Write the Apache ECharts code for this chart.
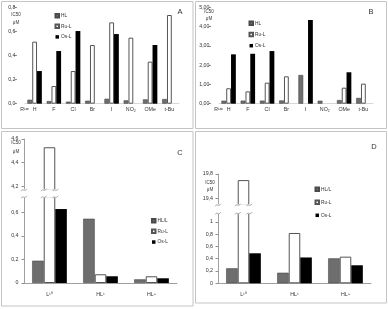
<!DOCTYPE html>
<html><head><meta charset="utf-8">
<script src="https://cdn.jsdelivr.net/npm/echarts@6/dist/echarts.min.js"></script>
<style>html,body{margin:0;padding:0;background:#fff}#c{width:388px;height:309px}</style>
</head><body><div id="c"></div>
<script>
// ---- data ----
const catsAB = ['H','F','Cl','Br','I','NO₂','OMe','t-Bu'];
const aHL = [0.033, 0.022, 0.017, 0.025, 0.041, 0.028, 0.036, 0.039];
const aRu = [0.515, 0.147, 0.271, 0.487, 0.675, 0.548, 0.349, 0.736];
const aOs = [0.271, 0.437, 0.603, null, 0.578, null, 0.487, null];
const bHL = [0.156, 0.16, 0.16, 0.17, 1.49, 0.156, 0.19, 0.30];
const bRu = [0.80, 0.64, 1.09, 1.42, null, null, 0.83, 1.04];
const bOs = [2.56, 2.59, 2.73, null, 4.34, null, 1.63, null];
const catsCD = ['L¹⁰','HL¹','HL⁹'];
const cHL = [0.189, 0.545, 0.031];
const cRu = [4.53, 0.074, 0.057];
const cOs = [0.627, 0.057, 0.040];
const dHL = [0.244, 0.172, 0.406];
const dRu = [19.70, 0.818, 0.433];
const dOs = [0.488, 0.420, 0.293];
const ticksA = [0, 0.2, 0.4, 0.6, 0.8];
const ticksB = [0, 1, 2, 3, 4, 5];
const ticksCup = [4.2, 4.4, 4.6];
const ticksClow = [0, 0.2, 0.4, 0.6];
const ticksDup = [19.4, 19.8];
const ticksDlow = [0, 0.2, 0.4, 0.6, 0.8, 1];

const FONT = 'Liberation Sans';
const TXT = '#333333';
const GRAY = '#6e6e6e', GRAYB = '#4a4a4a';
const chart = echarts.init(document.getElementById('c'), null, {renderer:'canvas'});

const comma = d => v => (d == null ? String(+v.toFixed(2)) : v.toFixed(d)).replace('.', ',');

function styleOf(kind){
  if (kind === 'hl') return {color: GRAY, borderColor: GRAYB, borderWidth: 0.6};
  if (kind === 'ru') return {color: '#ffffff', borderColor: '#555555', borderWidth: 1};
  return {color: '#000000'};
}
const series = [];
function addSeries(grid, names, datas, gap){
  const kinds = ['hl','ru','os'];
  for (let i = 0; i < 3; i++) {
    series.push({
      type: 'bar', name: names[i], xAxisIndex: grid, yAxisIndex: grid,
      data: datas[i], barGap: '0%', barCategoryGap: gap, clip: true,
      itemStyle: styleOf(kinds[i]), emphasis: {disabled: true}, animation: false
    });
  }
}
addSeries(0, ['HL','Ru-L','Os-L'], [aHL, aRu, aOs], '25%');
addSeries(1, ['HL','Ru-L','Os-L'], [bHL, bRu, bOs], '25%');
addSeries(2, ['HL/L','Ru-L','Os-L'], [cHL, cRu, cOs], '32%');
addSeries(3, ['HL/L','Ru-L','Os-L'], [cHL, cRu, cOs], '32%');
addSeries(4, ['HL/L','Ru-L','Os-L'], [dHL, dRu, dOs], '32%');
addSeries(5, ['HL/L','Ru-L','Os-L'], [dHL, dRu, dOs], '32%');

const grids = [
  {left: 25, top: 7.3, width: 154, height: 96.4},
  {left: 219, top: 7.3, width: 154, height: 96.4},
  {left: 24, top: 139, width: 153, height: 51},
  {left: 24, top: 197, width: 153, height: 86},
  {left: 218, top: 174, width: 153, height: 31},
  {left: 218, top: 213.3, width: 153, height: 70}
];
const lab = {fontFamily: FONT, fontSize: 5.3, color: TXT};
const xAxes = [
  {gridIndex: 0, type: 'category', data: catsAB, axisLine: {lineStyle: {color: '#d8d8d8'}}, axisTick: {show: false}, axisLabel: Object.assign({margin: 3.2, interval: 0}, lab)},
  {gridIndex: 1, type: 'category', data: catsAB, axisLine: {lineStyle: {color: '#d8d8d8'}}, axisTick: {show: false}, axisLabel: Object.assign({margin: 3.2, interval: 0}, lab)},
  {gridIndex: 2, type: 'category', data: catsCD, show: false},
  {gridIndex: 3, type: 'category', data: catsCD, axisLine: {lineStyle: {color: '#a0a0a0'}}, axisTick: {show: false}, axisLabel: Object.assign({margin: 9.2, interval: 0}, lab)},
  {gridIndex: 4, type: 'category', data: catsCD, show: false},
  {gridIndex: 5, type: 'category', data: catsCD, axisLine: {lineStyle: {color: '#a0a0a0'}}, axisTick: {show: false}, axisLabel: Object.assign({margin: 9.2, interval: 0}, lab)}
];
function yax(grid, min, max, vals, fmt, opts){
  return {
    gridIndex: grid, type: 'value', min: min, max: max, offset: opts.offset || 0,
    splitLine: {show: false},
    axisLine: {show: opts.line, lineStyle: {color: '#a0a0a0'}},
    axisTick: {show: true, length: 2.5, lineStyle: {color: '#909090'}, customValues: vals},
    axisLabel: Object.assign({margin: opts.margin, formatter: fmt, customValues: vals}, lab)
  };
}
const yAxes = [
  yax(0, 0, 0.8, ticksA, comma(1), {offset: 8, line: false, margin: 1.5}),
  yax(1, 0, 5, ticksB, comma(2), {offset: 8, line: false, margin: 1.5}),
  yax(2, 4.168, 4.6, ticksCup, comma(null), {line: true, margin: 5.5}),
  yax(3, 0, 0.729, ticksClow, comma(null), {line: true, margin: 5.5}),
  yax(4, 19.29, 19.8, ticksDup, comma(null), {line: true, margin: 5}),
  yax(5, 0, 1.138, ticksDlow, comma(null), {line: true, margin: 5})
];
function legend(left, top, lh, names){
  return {left: left, top: top, orient: 'vertical', padding: 0, itemGap: 0, itemWidth: 3.5, itemHeight: 3.5,
    icon: 'rect', data: names, selectedMode: false,
    textStyle: {fontFamily: FONT, fontSize: 4.8, color: TXT, lineHeight: lh, padding: [0,0,0,-3]}};
}
const legends = [
  legend(54.5, 10.4, 10.6, ['HL','Ru-L','Os-L']),
  legend(248.5, 17.7, 11.2, ['HL','Ru-L','Os-L']),
  legend(151, 215.3, 10.7, ['HL/L','Ru-L','Os-L']),
  legend(314.5, 182.8, 13, ['HL/L','Ru-L','Os-L'])
];
function txt(id, x, y, s, size, align){
  return {type: 'text', id: id, z: 50, style: {text: s, x: x, y: y, font: size + 'px ' + FONT, fill: TXT, align: align || 'center', verticalAlign: 'middle'}};
}
function frame(id, x, y, w, h){
  return {type: 'rect', id: id, z: 1, shape: {x: x, y: y, width: w, height: h}, style: {fill: 'none', stroke: '#c4c4c4', lineWidth: 1}};
}
const graphics = [
  frame('fa', 1.5, 1.5, 191.5, 127), frame('fb', 195.5, 1.5, 191, 127),
  frame('fc', 1.5, 131.5, 191.5, 174.5), frame('fd', 195.5, 131.5, 191, 171.5),
  txt('la', 180, 12, 'A', 7.5), txt('lb', 371, 12, 'B', 7.5), txt('lc', 180, 153, 'C', 7.5), txt('ld', 374, 147, 'D', 7.5),
  txt('ra', 24.5, 109.5, 'R¹=', 5.2), txt('rb', 218.5, 109.5, 'R¹=', 5.2),
  txt('ia1', 16, 14.3, 'IC50', 4.5), txt('ia2', 16, 22.7, 'μM', 4.5),
  txt('ib1', 209, 11.7, 'IC50', 4.5), txt('ib2', 209, 18.3, 'μM', 4.5),
  txt('ic1', 16, 143, 'IC50', 4.5), txt('ic2', 16, 151.3, 'μM', 4.5),
  txt('id1', 210, 182.7, 'IC50', 4.5), txt('id2', 210, 189.3, 'μM', 4.5)
];

chart.setOption({
  animation: false,
  grid: grids, xAxis: xAxes, yAxis: yAxes, legend: legends, series: series, graphic: graphics
});

// ---- axis-break decorations placed from the library's own layout ----
const model = chart.getModel();
const brk = [];
function tilde(id, x, y){
  return {type: 'bezierCurve', id: id, z: 60, shape: {x1: x - 2.8, y1: y + 1.2, cpx1: x - 1, cpx2: x + 0.5, cpy1: y - 2.2, cpy2: y + 2.6, x2: x + 2.8, y2: y - 1.2},
    style: {stroke: '#909090', lineWidth: 0.8, fill: 'none'}};
}
[[2, 3, 10, 'c'], [4, 5, 16, 'd']].forEach(([up, low, sIdx, p]) => {
  const ru = model.getComponent('grid', up).coordinateSystem.getRect();
  const rl = model.getComponent('grid', low).coordinateSystem.getRect();
  const lay = model.getSeriesByIndex(sIdx).getData().getItemLayout(0);
  const bx1 = Math.min(lay.x, lay.x + lay.width), bx2 = Math.max(lay.x, lay.x + lay.width);
  const yTop = ru.y + ru.height, yBot = rl.y;
  brk.push({type: 'rect', id: 'cov' + p, z: 55, shape: {x: rl.x - 3, y: yTop - 0.7, width: bx2 - rl.x + 6, height: yBot - yTop + 1.4}, style: {fill: '#fff'}});
  [rl.x, bx1, bx2].forEach((x, k) => {
    brk.push(tilde('t' + p + k + 'a', x, yTop));
    brk.push(tilde('t' + p + k + 'b', x, yBot));
  });
});
chart.setOption({graphic: brk});
</script></body></html>
